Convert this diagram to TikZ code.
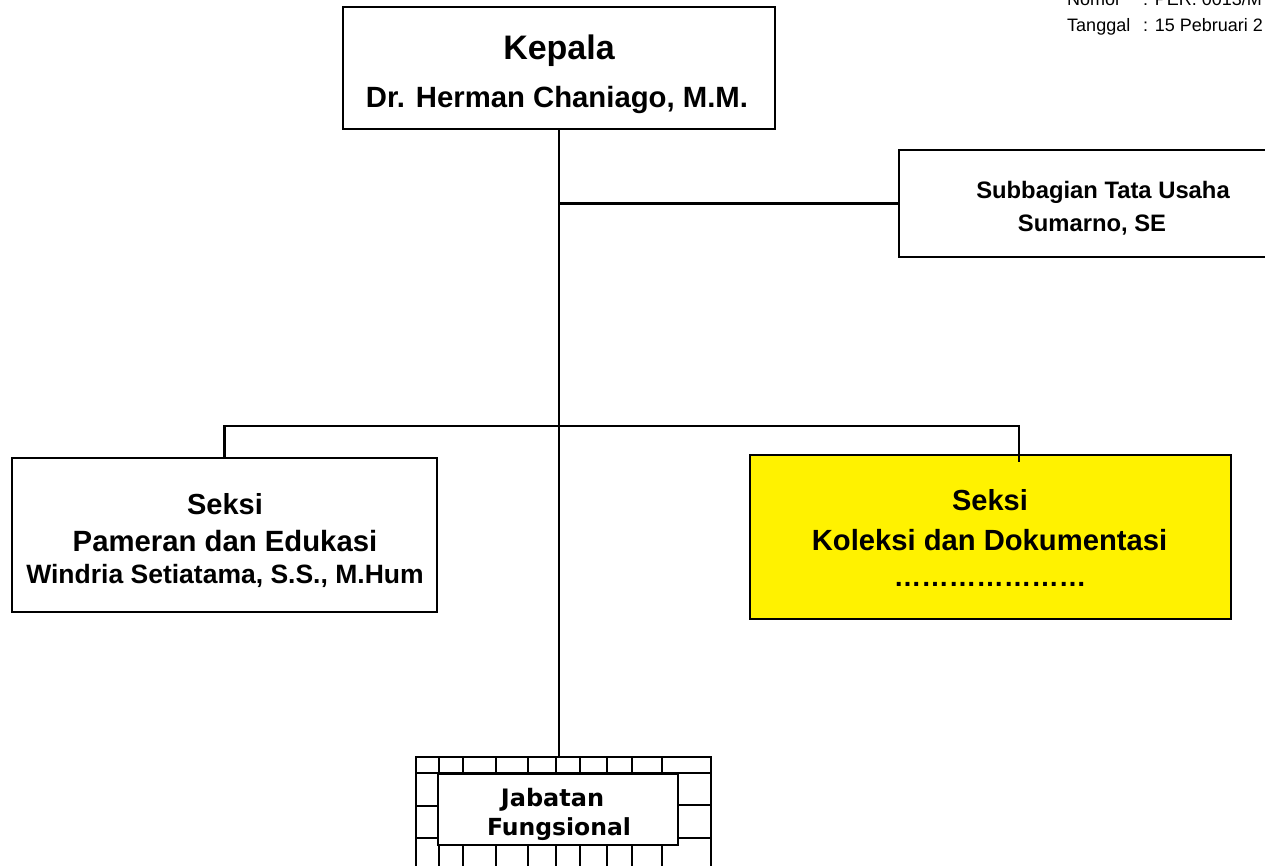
\documentclass[tikz,border=0pt]{standalone}
\usepackage{fontspec}
\setmainfont{Liberation Sans}
\newfontfamily\jabfont{DejaVu Sans}
\begin{document}
\begin{tikzpicture}[x=1pt,y=-1pt,
  box/.style={draw,line width=2.2pt,inner sep=0pt},
  conn/.style={line width=2.2pt},
  cell/.style={line width=1.9pt},
  txt/.style={inner sep=0pt,anchor=base,font=\bfseries},
  small/.style={inner sep=0pt,anchor=base west,font=\fontsize{18}{20}\selectfont}]
\useasboundingbox (0,0) rectangle (1265,865);
\clip (0,0) rectangle (1265,865);
% boxes
\node[box,minimum width=432pt,minimum height=122pt] (kepala) at (559,68) {};
\node[box,minimum width=390pt,minimum height=107pt] (sub) at (1094,203.5) {};
\node[box,minimum width=425pt,minimum height=154pt] (left) at (224.5,535) {};
\node[box,fill=yellow,minimum width=481pt,minimum height=164pt] (yel) at (990.5,537) {};
\node[box,minimum width=295pt,minimum height=143pt] (jab) at (563.5,828.5) {};
\node[box,minimum width=240pt,minimum height=71pt] (jabin) at (558,809.5) {};
% coordinates
\coordinate (br) at (559,426);
\coordinate (rt) at (1019,426);
\coordinate (rtend) at (1019,462);
% connectors
\draw[conn] (kepala.south -| br) -- (br |- jab.north);
\draw[conn] (br |- sub.west) -- (sub.west);
\draw[conn] (left.north) |- (rt) -- (rtend);
% jabatan cells
\draw[cell] (416,773) -- (711,773);
\foreach \x in {439.3,463.3,495.7,527.7,555.7,580,607.3,631.7,661.7}{
  \draw[cell] (\x,757) -- (\x,773);
  \draw[cell] (\x,845) -- (\x,900);
}
\draw[cell] (416,806) -- (438,806);
\draw[cell] (416,838) -- (438,838);
\draw[cell] (678,805) -- (711,805);
\draw[cell] (678,838) -- (711,838);
% texts
\node[txt,font=\bfseries\fontsize{34}{40}\selectfont] (t1) at (559,59) {Kepala};
\node[txt,font=\bfseries\fontsize{29.3}{34}\selectfont] (t2) at (557,107) {Dr. Herman Chaniago, M.M.};
\node[txt,font=\bfseries\fontsize{23.8}{28}\selectfont] (t3) at (1103,198) {Subbagian Tata Usaha};
\node[txt,font=\bfseries\fontsize{23.8}{28}\selectfont] (t4) at (1092,231) {Sumarno, SE};
\node[txt,font=\bfseries\fontsize{29}{34}\selectfont] (t5) at (225,514) {Seksi};
\node[txt,font=\bfseries\fontsize{29.3}{34}\selectfont] (t6) at (225,551) {Pameran dan Edukasi};
\node[txt,font=\bfseries\fontsize{26.5}{31}\selectfont] (t7) at (225,583) {Windria Setiatama, S.S., M.Hum};
\node[txt,font=\bfseries\fontsize{29}{34}\selectfont] (t8) at (990,510) {Seksi};
\node[txt,font=\bfseries\fontsize{29.2}{34}\selectfont] (t9) at (989.5,550) {Koleksi dan Dokumentasi};
\node[txt,font=\bfseries\fontsize{27.5}{32}\selectfont] (t10) at (990,586) {…………………};
\node[txt,font=\jabfont\bfseries\fontsize{24}{28}\selectfont] (t11) at (552.5,806) {Jabatan};
\node[txt,font=\jabfont\bfseries\fontsize{23.5}{28}\selectfont] (t12) at (559,835) {Fungsional};
\node[small] (n1) at (1067,5) {Nomor};
\node[small] (n2) at (1143,5) {: PER. 0013/M};
\node[small] (n3) at (1067,31) {Tanggal};
\node[small] (n4) at (1143,31) {: 15 Pebruari 2};
\end{tikzpicture}
\end{document}
